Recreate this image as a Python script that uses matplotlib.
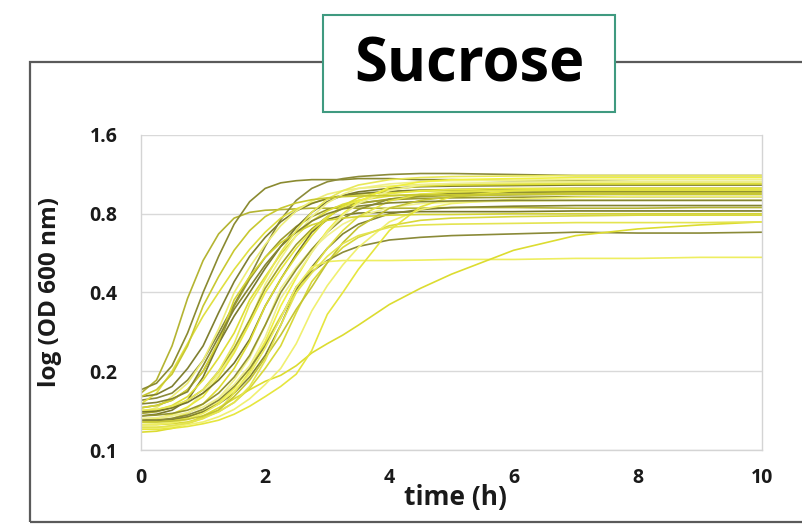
import matplotlib
matplotlib.use("Agg")
import matplotlib.pyplot as plt
from matplotlib.patches import Rectangle
from matplotlib.ticker import FixedLocator, FixedFormatter, NullLocator

plt.rcParams['font.family'] = ['Open Sans', 'DejaVu Sans']

# time points (h)
time_h = [0, 0.25, 0.5, 0.75, 1.0, 1.25, 1.5, 1.75, 2.0, 2.25, 2.5, 2.75, 3.0,
          3.25, 3.5, 4, 4.5, 5, 6, 7, 8, 9, 10]

# OD600 growth curves
c01 = [0.165, 0.185, 0.25, 0.38, 0.53, 0.67, 0.77, 0.81, 0.825, 0.83, 0.835, 0.84, 0.84, 0.84, 0.84, 0.84, 0.84, 0.845, 0.845, 0.84, 0.84, 0.845, 0.845]
c02 = [0.17, 0.18, 0.21, 0.28, 0.40, 0.55, 0.73, 0.89, 1.0, 1.05, 1.07, 1.08, 1.08, 1.08, 1.09, 1.09, 1.08, 1.08, 1.07, 1.07, 1.06, 1.06, 1.06]
c03 = [0.155, 0.158, 0.165, 0.185, 0.22, 0.28, 0.36, 0.46, 0.60, 0.76, 0.90, 1.0, 1.06, 1.09, 1.11, 1.13, 1.14, 1.14, 1.13, 1.12, 1.12, 1.12, 1.12]
c04 = [0.15, 0.165, 0.20, 0.255, 0.325, 0.40, 0.49, 0.585, 0.68, 0.77, 0.835, 0.88, 0.91, 0.935, 0.95, 0.965, 0.975, 0.98, 0.98, 0.98, 0.985, 0.985, 0.985]
c05 = [0.16, 0.163, 0.175, 0.205, 0.25, 0.335, 0.44, 0.55, 0.65, 0.745, 0.82, 0.875, 0.915, 0.94, 0.955, 0.975, 0.985, 0.99, 0.995, 1.0, 1.0, 1.0, 1.0]
c06 = [0.14, 0.145, 0.16, 0.18, 0.22, 0.29, 0.40, 0.50, 0.61, 0.72, 0.82, 0.895, 0.95, 0.98, 1.0, 1.02, 1.035, 1.04, 1.045, 1.05, 1.05, 1.05, 1.05]
c07 = [0.145, 0.148, 0.155, 0.17, 0.20, 0.255, 0.355, 0.45, 0.545, 0.635, 0.715, 0.78, 0.83, 0.86, 0.88, 0.905, 0.915, 0.92, 0.925, 0.93, 0.93, 0.93, 0.93]
c08 = [0.135, 0.137, 0.142, 0.155, 0.19, 0.255, 0.325, 0.40, 0.495, 0.60, 0.71, 0.81, 0.89, 0.94, 0.97, 1.0, 1.015, 1.02, 1.025, 1.03, 1.03, 1.03, 1.03]
c09 = [0.14, 0.142, 0.148, 0.16, 0.185, 0.225, 0.28, 0.375, 0.46, 0.56, 0.66, 0.75, 0.82, 0.87, 0.90, 0.935, 0.95, 0.96, 0.965, 0.97, 0.97, 0.97, 0.97]
c10 = [0.13, 0.131, 0.135, 0.145, 0.165, 0.195, 0.24, 0.31, 0.43, 0.54, 0.66, 0.78, 0.88, 0.95, 1.0, 1.04, 1.06, 1.07, 1.075, 1.08, 1.08, 1.08, 1.08]
c11 = [0.138, 0.14, 0.145, 0.155, 0.17, 0.20, 0.245, 0.315, 0.415, 0.51, 0.61, 0.70, 0.78, 0.84, 0.875, 0.91, 0.93, 0.94, 0.945, 0.95, 0.95, 0.95, 0.95]
c12 = [0.13, 0.132, 0.137, 0.146, 0.16, 0.19, 0.235, 0.305, 0.40, 0.49, 0.59, 0.69, 0.78, 0.85, 0.90, 0.955, 0.98, 0.99, 1.0, 1.0, 1.0, 1.0, 1.0]
c13 = [0.14, 0.141, 0.145, 0.152, 0.165, 0.185, 0.215, 0.265, 0.355, 0.45, 0.56, 0.68, 0.76, 0.79, 0.805, 0.81, 0.815, 0.815, 0.815, 0.82, 0.82, 0.82, 0.82]
c14 = [0.128, 0.129, 0.132, 0.138, 0.15, 0.172, 0.205, 0.26, 0.355, 0.45, 0.55, 0.66, 0.77, 0.86, 0.92, 0.99, 1.02, 1.03, 1.035, 1.04, 1.04, 1.04, 1.04]
c15 = [0.125, 0.126, 0.128, 0.133, 0.142, 0.158, 0.185, 0.225, 0.30, 0.415, 0.50, 0.585, 0.66, 0.73, 0.78, 0.845, 0.875, 0.885, 0.895, 0.9, 0.9, 0.9, 0.9]
c16 = [0.135, 0.136, 0.138, 0.142, 0.15, 0.165, 0.19, 0.23, 0.30, 0.40, 0.49, 0.585, 0.68, 0.765, 0.83, 0.91, 0.94, 0.955, 0.965, 0.97, 0.97, 0.97, 0.97]
c17 = [0.128, 0.128, 0.13, 0.133, 0.14, 0.152, 0.172, 0.205, 0.26, 0.355, 0.455, 0.57, 0.69, 0.80, 0.89, 1.01, 1.06, 1.08, 1.09, 1.1, 1.1, 1.1, 1.1]
c18 = [0.13, 0.13, 0.131, 0.134, 0.14, 0.15, 0.165, 0.19, 0.23, 0.30, 0.41, 0.50, 0.59, 0.67, 0.73, 0.80, 0.83, 0.845, 0.855, 0.86, 0.86, 0.86, 0.86]
c19 = [0.122, 0.122, 0.123, 0.126, 0.132, 0.142, 0.165, 0.20, 0.255, 0.325, 0.40, 0.49, 0.59, 0.69, 0.78, 0.895, 0.95, 0.97, 0.985, 0.99, 0.99, 0.99, 0.99]
c20 = [0.125, 0.125, 0.126, 0.128, 0.133, 0.14, 0.152, 0.172, 0.205, 0.25, 0.335, 0.44, 0.52, 0.595, 0.65, 0.72, 0.755, 0.77, 0.78, 0.785, 0.79, 0.79, 0.79]
c21 = [0.13, 0.13, 0.132, 0.136, 0.143, 0.155, 0.175, 0.205, 0.25, 0.32, 0.42, 0.48, 0.53, 0.57, 0.60, 0.635, 0.65, 0.66, 0.67, 0.68, 0.675, 0.675, 0.68]
c22 = [0.125, 0.125, 0.127, 0.131, 0.138, 0.15, 0.168, 0.195, 0.245, 0.32, 0.42, 0.50, 0.525, 0.53, 0.53, 0.53, 0.532, 0.535, 0.535, 0.54, 0.54, 0.545, 0.545]
c23 = [0.117, 0.118, 0.121, 0.126, 0.135, 0.145, 0.157, 0.17, 0.183, 0.193, 0.21, 0.235, 0.255, 0.275, 0.30, 0.36, 0.415, 0.47, 0.58, 0.66, 0.70, 0.725, 0.745]
c24 = [0.122, 0.122, 0.123, 0.125, 0.128, 0.134, 0.143, 0.157, 0.178, 0.205, 0.255, 0.34, 0.425, 0.51, 0.595, 0.745, 0.83, 0.875, 0.91, 0.925, 0.93, 0.93, 0.93]
c25 = [0.12, 0.12, 0.121, 0.123, 0.126, 0.13, 0.137, 0.147, 0.16, 0.175, 0.195, 0.24, 0.33, 0.40, 0.49, 0.69, 0.85, 0.93, 0.98, 0.995, 1.0, 1.0, 1.0]
c26 = [0.145, 0.148, 0.155, 0.17, 0.20, 0.26, 0.375, 0.46, 0.545, 0.62, 0.68, 0.725, 0.755, 0.77, 0.78, 0.79, 0.795, 0.795, 0.8, 0.8, 0.8, 0.8, 0.8]
c27 = [0.15, 0.152, 0.157, 0.167, 0.21, 0.27, 0.345, 0.42, 0.51, 0.60, 0.68, 0.75, 0.80, 0.835, 0.855, 0.88, 0.89, 0.895, 0.9, 0.9, 0.9, 0.9, 0.9]
c28 = [0.132, 0.133, 0.135, 0.139, 0.146, 0.158, 0.178, 0.21, 0.27, 0.38, 0.465, 0.57, 0.68, 0.79, 0.875, 0.98, 1.03, 1.045, 1.055, 1.06, 1.06, 1.06, 1.06]
c29 = [0.142, 0.143, 0.147, 0.155, 0.17, 0.20, 0.255, 0.36, 0.45, 0.57, 0.69, 0.81, 0.91, 0.98, 1.03, 1.08, 1.1, 1.11, 1.115, 1.12, 1.12, 1.12, 1.12]
c30 = [0.128, 0.128, 0.129, 0.131, 0.135, 0.142, 0.16, 0.185, 0.225, 0.275, 0.345, 0.42, 0.52, 0.62, 0.71, 0.84, 0.90, 0.93, 0.95, 0.96, 0.96, 0.96, 0.96]
c31 = [0.122, 0.122, 0.124, 0.127, 0.132, 0.14, 0.152, 0.175, 0.22, 0.30, 0.40, 0.475, 0.55, 0.615, 0.66, 0.71, 0.725, 0.73, 0.735, 0.74, 0.74, 0.74, 0.745]
c32 = [0.16, 0.17, 0.195, 0.25, 0.355, 0.46, 0.58, 0.69, 0.78, 0.84, 0.88, 0.905, 0.92, 0.93, 0.935, 0.94, 0.945, 0.945, 0.95, 0.95, 0.95, 0.95, 0.95]

curves = [c01, c02, c03, c04, c05, c06, c07, c08, c09, c10, c11, c12, c13, c14, c15, c16,
          c17, c18, c19, c20, c21, c22, c23, c24, c25, c26, c27, c28, c29, c30, c31, c32]
colors = ['#b4b432', '#8a8a30', '#8b8b3a', '#e0e040', '#7f7f2f', '#eeee77', '#9a9a2e', '#7a7a2c',
          '#dede36', '#f0f088', '#a3a32c', '#e8e840', '#77772a', '#dcdc34', '#f2f28c', '#929230',
          '#f0f040', '#838330', '#e2e246', '#d8d83a', '#8a8a38', '#eeee60', '#dcdc30', '#f0f070',
          '#e6e63e', '#d4d432', '#858532', '#eeee90', '#e8e858', '#c4c434', '#e4e450', '#c8c830']

y_ticks = [0.1, 0.2, 0.4, 0.8, 1.6]
y_tick_labels = ['0.1', '0.2', '0.4', '0.8', '1.6']
x_ticks = [0, 2, 4, 6, 8, 10]
x_tick_labels = ['0', '2', '4', '6', '8', '10']

W, H = 802, 527
fig = plt.figure(figsize=(W / 100, H / 100), dpi=100)
fig.patch.set_facecolor('white')

# outer frame
fig.add_artist(Rectangle((30 / W, 1 - 522 / H), 1.0, (522 - 62) / H, transform=fig.transFigure,
                         facecolor='none', edgecolor='#5a5a5a', lw=1.6, zorder=0))

ax = fig.add_axes([141 / W, 1 - 450 / H, (762 - 141) / W, (450 - 135) / H])
ax.set_yscale('log', base=2)
for vals, col in zip(curves, colors):
    ax.plot(time_h, vals, color=col, lw=1.2, solid_capstyle='round')

ax.set_xlim(0, 10)
ax.set_ylim(0.1, 1.6)
ax.yaxis.set_major_locator(FixedLocator(y_ticks))
ax.yaxis.set_major_formatter(FixedFormatter(y_tick_labels))
ax.yaxis.set_minor_locator(NullLocator())
ax.set_xticks(x_ticks)
ax.set_xticklabels(x_tick_labels)
ax.grid(axis='y', color='#d9d9d9', lw=1.0)
ax.set_axisbelow(True)
for s in ['left', 'right', 'bottom']:
    ax.spines[s].set_color('#d4d4d4')
    ax.spines[s].set_linewidth(1.0)
ax.spines['top'].set_visible(False)
ax.tick_params(axis='both', length=0, labelsize=14, colors='#1a1a1a')
ax.tick_params(axis='y', pad=17)
ax.tick_params(axis='x', pad=13)
for lab in ax.get_xticklabels() + ax.get_yticklabels():
    lab.set_fontweight('bold')

fig.text(455 / W, 1 - 498 / H, 'time (h)', ha='center', va='center', fontsize=19,
         fontweight='bold', color='#1a1a1a')
fig.text(50 / W, 1 - 292 / H, 'log (OD 600 nm)', ha='center', va='center', rotation=90,
         fontsize=17.5, fontweight='bold', color='#1a1a1a')

# title box
fig.add_artist(Rectangle((323 / W, 1 - 112 / H), (615 - 323) / W, (112 - 15) / H,
                         transform=fig.transFigure, facecolor='white', edgecolor='#3f9a80',
                         lw=1.5, zorder=5))
fig.text(469 / W, 1 - 66 / H, 'Sucrose', ha='center', va='center', fontsize=43,
         fontweight='bold', color='black', zorder=6)

fig.savefig('out.png', dpi=100)
